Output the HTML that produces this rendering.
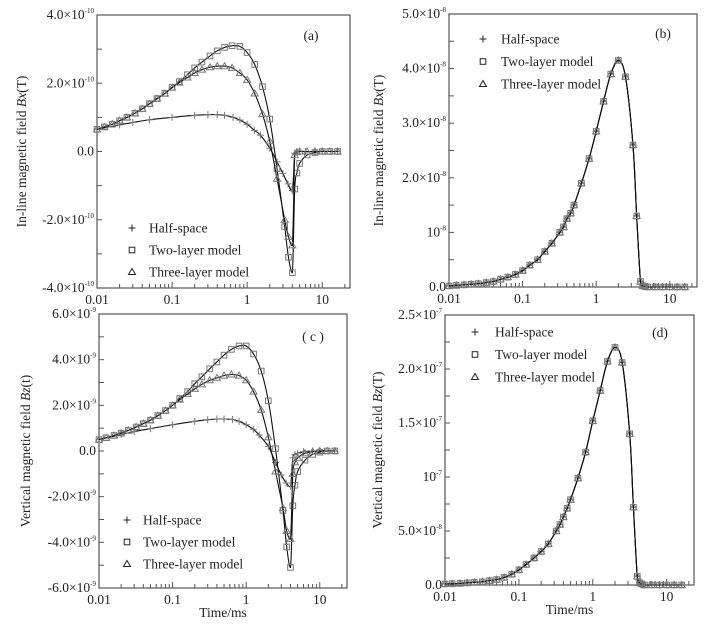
<!DOCTYPE html>
<html><head><meta charset="utf-8"><style>
html,body{margin:0;padding:0;background:#fff;}
svg{display:block;}
svg text{font-family:"Liberation Serif","DejaVu Serif",serif;}
</style></head><body>
<svg id="fig" width="710" height="624" viewBox="0 0 710 624" xmlns="http://www.w3.org/2000/svg" font-family="Liberation Serif, serif"></svg>
<script>
// ---- Panel (a): In-line Bx, units 1e-10 T ----
const aHalfT = [0.01,0.02,0.03,0.05,0.1,0.2,0.3,0.4,0.5,0.65,0.8,1,1.25,1.5,2,2.5,3,3.5,4,4.3,4.6,5,6,8,10,13,16];
const aHalfV = [0.65,0.78,0.85,0.93,1.0,1.06,1.08,1.08,1.06,1.0,0.92,0.8,0.62,0.48,0.1,-0.3,-0.65,-0.95,-1.15,-0.05,-0.02,0,0,0,0,0,0];
const aTwoT = [0.01,0.0125,0.016,0.02,0.025,0.032,0.04,0.05,0.063,0.08,0.1,0.125,0.16,0.2,0.25,0.32,0.4,0.5,0.63,0.8,1,1.26,1.6,2,2.5,3.16,3.55,4,4.3,4.6,5,6.3,8,10,12.6,16];
const aTwoV = [0.65,0.72,0.8,0.9,1.0,1.12,1.25,1.4,1.55,1.7,1.88,2.05,2.25,2.45,2.62,2.8,2.95,3.05,3.1,3.08,2.9,2.55,1.9,0.95,-0.5,-2.2,-3.1,-3.55,-1.1,-0.63,-0.35,-0.1,-0.03,0,0,0];
const aThreeT = [0.01,0.0125,0.016,0.02,0.025,0.032,0.04,0.05,0.063,0.08,0.1,0.125,0.16,0.2,0.25,0.32,0.4,0.5,0.63,0.8,1,1.26,1.6,2,2.5,3.16,3.55,4,4.3,4.6,5,6.3,8,10,12.6,16];
const aThreeV = [0.65,0.72,0.8,0.9,1.0,1.12,1.25,1.4,1.55,1.7,1.87,2.02,2.17,2.3,2.4,2.47,2.5,2.5,2.45,2.3,2.1,1.7,1.1,0.3,-0.8,-2.0,-2.5,-2.75,-0.1,-0.02,0,0,0,0,0,0];
// ---- Panel (b): In-line Bx, units 1e-8 T ----
const bT = [0.01,0.0125,0.016,0.02,0.025,0.032,0.04,0.05,0.063,0.08,0.1,0.125,0.16,0.2,0.25,0.32,0.36,0.4,0.45,0.5,0.63,0.8,1,1.26,1.58,2,2.5,3.16,3.55,4,4.3,4.6,5,6.3,8,10,12.6,16];
const bV = [0.02,0.03,0.04,0.05,0.06,0.08,0.1,0.14,0.18,0.23,0.3,0.4,0.5,0.65,0.8,1.0,1.1,1.25,1.35,1.5,1.9,2.35,2.85,3.4,3.9,4.15,3.85,2.6,1.3,0.1,0.02,0.01,0,0,0,0,0,0];
// ---- Panel (c): Vertical Bz, units 1e-9 T ----
const cHalfT = [0.01,0.02,0.03,0.05,0.1,0.2,0.3,0.4,0.5,0.65,0.8,1,1.25,1.5,2,2.5,3,3.5,4,4.3,4.6,5,6,8,10,13,16];
const cHalfV = [0.5,0.72,0.85,0.98,1.15,1.3,1.37,1.4,1.4,1.38,1.3,1.15,0.95,0.7,0.2,-0.5,-1.05,-1.4,-1.55,-0.3,-0.15,-0.1,-0.03,0,0,0,0];
const cTwoT = [0.01,0.0125,0.016,0.02,0.025,0.032,0.04,0.05,0.063,0.08,0.1,0.125,0.16,0.2,0.25,0.32,0.4,0.5,0.63,0.8,1,1.26,1.6,2,2.5,3.16,3.55,4,4.3,4.6,5,6.3,8,10,12.6,16];
const cTwoV = [0.5,0.58,0.68,0.78,0.9,1.05,1.2,1.35,1.55,1.77,2.0,2.3,2.6,2.95,3.25,3.6,3.9,4.2,4.45,4.6,4.6,4.25,3.5,2.2,0.1,-2.6,-4.2,-5.1,-2.4,-1.5,-0.9,-0.4,-0.15,-0.05,0,0];
const cThreeT = [0.01,0.0125,0.016,0.02,0.025,0.032,0.04,0.05,0.063,0.08,0.1,0.125,0.16,0.2,0.25,0.32,0.4,0.5,0.63,0.8,1,1.26,1.6,2,2.5,3.16,3.55,4,4.3,4.6,5,6.3,8,10,12.6,16];
const cThreeV = [0.5,0.58,0.68,0.78,0.9,1.05,1.2,1.35,1.55,1.77,2.0,2.25,2.5,2.72,2.92,3.1,3.2,3.3,3.35,3.3,3.1,2.6,1.8,0.6,-0.9,-2.5,-3.5,-3.85,-1.0,-0.5,-0.3,-0.1,-0.03,0,0,0];
// ---- Panel (d): Vertical Bz, units 1e-7 T ----
const dT = [0.01,0.0125,0.016,0.02,0.025,0.032,0.04,0.05,0.063,0.08,0.1,0.125,0.16,0.2,0.25,0.32,0.36,0.4,0.45,0.5,0.63,0.8,1,1.26,1.58,2,2.5,3.16,3.55,4,4.3,4.6,5,6.3,8,10,12.6,16];
const dV = [0.01,0.012,0.015,0.02,0.025,0.03,0.04,0.05,0.07,0.1,0.14,0.19,0.25,0.31,0.38,0.5,0.56,0.63,0.71,0.79,0.99,1.23,1.52,1.8,2.07,2.2,2.06,1.4,0.72,0.08,0.02,0.01,0,0,0,0,0,0];
// tick labels
const xTickLabels = ["0.01","0.1","1","10"];
const xTickValues = [0.01,0.1,1,10];

const NS = "http://www.w3.org/2000/svg";
const FONT = '"Liberation Serif", serif';
const svg = document.getElementById('fig');
function el(tag, attrs, parent){
  const e = document.createElementNS(NS, tag);
  for (const k in attrs) e.setAttribute(k, attrs[k]);
  if (tag==='text') e.setAttribute('font-family', FONT);
  (parent||svg).appendChild(e);
  return e;
}
function smoothPath(pts){
  let d = "M"+pts[0][0].toFixed(2)+","+pts[0][1].toFixed(2);
  for (let i=0;i<pts.length-1;i++){
    const p0=pts[Math.max(0,i-1)], p1=pts[i], p2=pts[i+1], p3=pts[Math.min(pts.length-1,i+2)];
    const k=1/6;
    const lo=Math.min(p1[1],p2[1]), hi=Math.max(p1[1],p2[1]);
    const cl = v => Math.max(lo-1.5, Math.min(hi+1.5, v));
    const c1=[p1[0]+(p2[0]-p0[0])*k, cl(p1[1]+(p2[1]-p0[1])*k)];
    const c2=[p2[0]-(p3[0]-p1[0])*k, cl(p2[1]-(p3[1]-p1[1])*k)];
    d+=" C"+c1[0].toFixed(2)+","+c1[1].toFixed(2)+" "+c2[0].toFixed(2)+","+c2[1].toFixed(2)+" "+p2[0].toFixed(2)+","+p2[1].toFixed(2);
  }
  return d;
}
function marker(g, type, x, y, col){
  let m;
  if (type==="plus"){
    m = el('path',{d:`M${x-3.5},${y}H${x+3.5}M${x},${y-3.5}V${y+3.5}`,stroke:col,'stroke-width':1,fill:'none'},g);
  } else if (type==="square"){
    m = el('rect',{x:x-2.8,y:y-2.8,width:5.6,height:5.6,stroke:col,'stroke-width':1,fill:'none'},g);
  } else {
    m = el('path',{d:`M${x},${y-3.5}L${x+3.5},${y+2.5}L${x-3.5},${y+2.5}Z`,stroke:col,'stroke-width':1,fill:'none'},g);
  }
  return m;
}
function addLabel(g, x, y, main, sup, anchor, size){
  const t = el('text',{x:x,y:y,'font-size':size||13,'text-anchor':anchor||'end',fill:'#222'},g);
  t.appendChild(document.createTextNode(main));
  if (sup){
    const s = el('tspan',{dy:-6,'font-size':7},t);
    s.textContent = sup;
  }
  return t;
}
function panel(p){
  const g = el('g',{});
  
  
  const lx0=Math.log10(0.01), lx1=1.37;
  const X = t => p.l + (Math.log10(t)-lx0)/(lx1-lx0)*(p.r-p.l);
  const Y = v => p.b - (v-p.ymin)/(p.ymax-p.ymin)*(p.b-p.t);
  const box = el('rect',{x:p.l,y:p.t,width:p.r-p.l,height:p.b-p.t,fill:'none',stroke:'#555','stroke-width':1.2},g);
  
  
  for (let dec=-2; dec<=1; dec++){
    for (let k=1;k<=9;k++){
      const t = k*Math.pow(10,dec);
      if (Math.log10(t)>lx1) continue;
      const x=X(t);
      const len = k===1?6:4;
      el('line',{x1:x,x2:x,y1:p.b,y2:p.b-len,stroke:'#555','stroke-width':1},g);
    }
  }
  xTickValues.forEach((v,i)=>{
    const tl = el('text',{x:X(v),y:p.b+16,'font-size':13.5,'text-anchor':'middle',fill:'#222'},g);
    tl.textContent = xTickLabels[i];
    
    
  });
  if (p.xtitle){
    const xt = el('text',{x:(p.l+p.r)/2,y:p.b+29,'font-size':13.5,'text-anchor':'middle',fill:'#222'},g);
    xt.textContent = "Time/ms";
    
    
  }
  for (let v=p.ymin; v<=p.ymax+1e-9; v+=p.minor){
    const y=Y(v);
    el('line',{x1:p.l,x2:p.l+5,y1:y,y2:y,stroke:'#555','stroke-width':1},g);
  }
  p.ylabels.forEach(lb=>{
    const tl = addLabel(g, p.l-3, Y(lb[0])+4, lb[1], lb[2], 'end', 13.5);
    
    
  });
  const yt = el('text',{x:0,y:0,'font-size':13.5,'text-anchor':'middle',fill:'#222',transform:`translate(${p.ytx},${(p.t+p.b)/2}) rotate(-90)`},g);
  yt.appendChild(document.createTextNode(p.ytitle[0]));
  const it = el('tspan',{'font-style':'italic'},yt); it.textContent=p.ytitle[1];
  yt.appendChild(document.createTextNode(p.ytitle[2]));
  
  
  p.series.forEach(s=>{
    const sg = el('g',{},g);
    
    
    const pts = s.t.map((t,i)=>[X(t),Y(s.v[i])]);
    const line = el('path',{d:smoothPath(pts),fill:'none',stroke:'#111','stroke-width':1.1},sg);
    
    
    pts.forEach(pt=>{
      const m = marker(sg, s.m, pt[0], pt[1], '#777');
      
      
    });
  });
  const names=["Half-space","Two-layer model","Three-layer model"], types=["plus","square","tri"];
  const lg = el('g',{},g);
  
  
  names.forEach((n,i)=>{
    const y = p.legY + i*p.legDy;
    const m = marker(lg, types[i], p.legX, y, '#222');
    
    
    const t = el('text',{x:p.legX+p.legTx,y:y+4.5,'font-size':13.5,fill:'#222'},lg);
    t.textContent = n;
    
    
  });
  const pl = el('text',{x:p.plx,y:p.ply,'font-size':13.5,'text-anchor':'middle',fill:'#222'},g);
  pl.textContent = p.plabel;
  
  
}
panel({name:'panel-a',l:97,r:350,t:15,b:288,ymin:-4,ymax:4,minor:1,
  ylabels:[[4,"4.0×10","-10"],[2,"2.0×10","-10"],[0,"0.0",""],[-2,"-2.0×10","-10"],[-4,"-4.0×10","-10"]],
  ytx:26,ytitle:["In-line magnetic field ","Bx","(T)"],
  series:[{key:'half-space',m:'plus',t:aHalfT,v:aHalfV},{key:'two-layer',m:'square',t:aTwoT,v:aTwoV},{key:'three-layer',m:'tri',t:aThreeT,v:aThreeV}],
  legX:132,legY:228,legDy:22,legTx:17,plx:311,ply:40,plabel:"(a)"});
panel({name:'panel-b',l:449,r:697,t:14,b:287,ymin:0,ymax:5,minor:0.5,
  ylabels:[[5,"5.0×10","-8"],[4,"4.0×10","-8"],[3,"3.0×10","-8"],[2,"2.0×10","-8"],[1,"10","-8"],[0,"0.0",""]],
  ytx:383,ytitle:["In-line magnetic field ","Bx","(T)"],
  series:[{key:'half-space',m:'plus',t:bT,v:bV},{key:'two-layer',m:'square',t:bT,v:bV},{key:'three-layer',m:'tri',t:bT,v:bV}],
  legX:483,legY:39,legDy:22.5,legTx:18,plx:663,ply:38,plabel:"(b)"});
panel({name:'panel-c',l:99,r:347,t:314,b:588,ymin:-6,ymax:6,minor:1,xtitle:true,
  ylabels:[[6,"6.0×10","-9"],[4,"4.0×10","-9"],[2,"2.0×10","-9"],[0,"0.0",""],[-2,"-2.0×10","-9"],[-4,"-4.0×10","-9"],[-6,"-6.0×10","-9"]],
  ytx:30,ytitle:["Vertical magnetic field ","Bz","(t)"],
  series:[{key:'half-space',m:'plus',t:cHalfT,v:cHalfV},{key:'two-layer',m:'square',t:cTwoT,v:cTwoV},{key:'three-layer',m:'tri',t:cThreeT,v:cThreeV}],
  legX:127,legY:520,legDy:22,legTx:16,plx:313,ply:341,plabel:"( c )"});
panel({name:'panel-d',l:445,r:694,t:315,b:585,ymin:0,ymax:2.5,minor:0.25,xtitle:true,
  ylabels:[[2.5,"2.5×10","-7"],[2,"2.0×10","-7"],[1.5,"1.5×10","-7"],[1,"10","-7"],[0.5,"5.0×10","-8"],[0,"0.0",""]],
  ytx:382,ytitle:["Vertical magnetic field ","Bz","(T)"],
  series:[{key:'half-space',m:'plus',t:dT,v:dV},{key:'two-layer',m:'square',t:dT,v:dV},{key:'three-layer',m:'tri',t:dT,v:dV}],
  legX:475,legY:332,legDy:22.5,legTx:20,plx:660,ply:337,plabel:"(d)"});
</script>
</body></html>
